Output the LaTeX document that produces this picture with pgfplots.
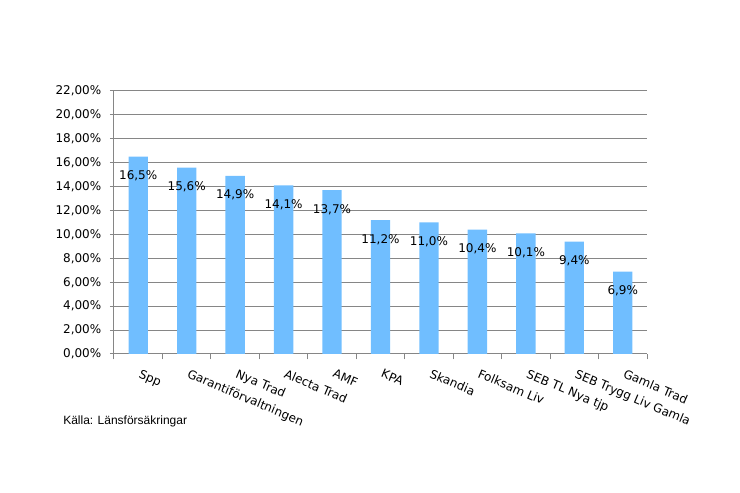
\documentclass[border=0pt]{standalone}
\usepackage{pgfplots}
\pgfplotsset{compat=1.18}
\usepackage{fontspec}
\setmainfont{DejaVu Sans}
\newfontfamily\arialfont{Liberation Sans}
\definecolor{barblue}{RGB}{112,190,255}
\definecolor{gridgray}{RGB}{134,134,134}
\begin{document}
\begin{tikzpicture}[x=0.75pt,y=0.75pt]
\path[use as bounding box] (0,0) rectangle (740,493);
\begin{axis}[
  at={(85.5pt,104.25pt)}, anchor=south west,
  scale only axis, width=399.75pt, height=197.25pt,
  ymin=0, ymax=22, xmin=-0.5, xmax=10.5,
  ytick={0,2,...,22},
  yticklabels={{0,00\%},{2,00\%},{4,00\%},{6,00\%},{8,00\%},{10,00\%},{12,00\%},{14,00\%},{16,00\%},{18,00\%},{20,00\%},{22,00\%}},
  xtick={0,...,10},
  xticklabels={Spp,Garantiförvaltningen,Nya Trad,Alecta Trad,AMF,KPA,Skandia,Folksam Liv,SEB TL Nya tjp,SEB Trygg Liv Gamla,Gamla Trad},
  minor xtick={-0.5,0.5,...,10.5},
  axis x line*=bottom, axis y line*=left,
  axis line style={gridgray, line width=0.75pt},
  ymajorgrids, grid style={gridgray, line width=0.75pt},
  major x tick style={draw=none},
  minor x tick style={gridgray, line width=0.75pt},
  y tick style={gridgray, line width=0.75pt},
  tick align=outside, major tick length=3pt, minor tick length=4pt,
  ticklabel style={font=\fontsize{9}{10}\selectfont, text=black},
  xticklabel style={rotate=-23, anchor=north west, xshift=2pt, yshift=-3pt},
  yticklabel style={xshift=-3pt},
  /pgf/number format/assume math mode=true,
  ybar, bar width=14.5pt,
  nodes near coords={\pgfmathprintnumber[fixed,precision=1,fixed zerofill,use comma]{\pgfplotspointmeta}\%},
  every node near coord/.append style={anchor=north, yshift=-7pt, font=\fontsize{9}{10}\selectfont, text=black},
  clip=false,
]
\addplot[fill=barblue, draw=none] coordinates {
(0,16.5) (1,15.6) (2,14.9) (3,14.1) (4,13.7) (5,11.2) (6,11.0) (7,10.4) (8,10.1) (9,9.4) (10,6.9)};
\end{axis}
\node[anchor=west, inner sep=0pt, font=\arialfont\fontsize{9}{10}\selectfont] at (63,72) {Källa: Länsförsäkringar};
\end{tikzpicture}
\end{document}
